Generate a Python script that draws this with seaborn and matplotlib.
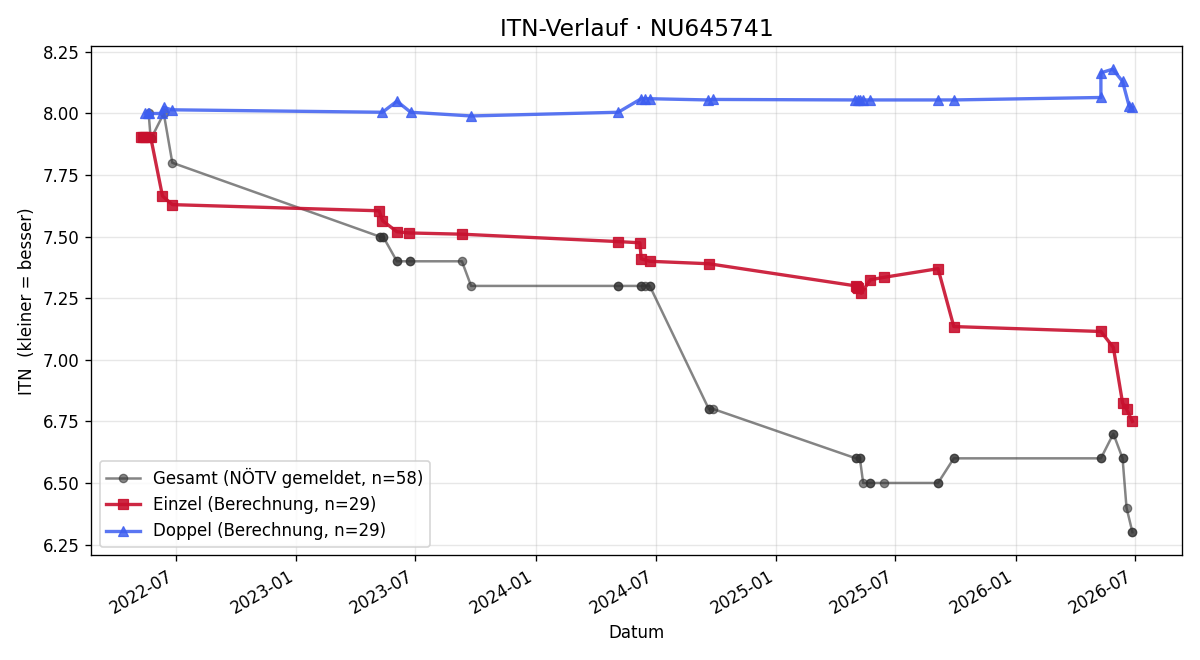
import matplotlib

matplotlib.use("Agg")
import matplotlib.dates as mdates
import matplotlib.pyplot as plt
import pandas as pd
import seaborn as sns

TITLE = "ITN-Verlauf · NU645741"

EINZEL_DATES = [
    "2022-05-09", "2022-05-12", "2022-05-16", "2022-05-24", "2022-06-11", "2022-06-26",
    "2023-05-07", "2023-05-12", "2023-06-03", "2023-06-22", "2023-09-10",
    "2024-05-05", "2024-06-07", "2024-06-09", "2024-06-22", "2024-09-20",
    "2025-05-02", "2025-05-03", "2025-05-05", "2025-05-10", "2025-05-24", "2025-06-14",
    "2025-09-04", "2025-09-28",
    "2026-05-10", "2026-05-29", "2026-06-12", "2026-06-18", "2026-06-27",
]
EINZEL_ITN = [
    7.905, 7.905, 7.905, 7.905, 7.665, 7.63,
    7.605, 7.565, 7.52, 7.515, 7.51,
    7.48, 7.475, 7.41, 7.40, 7.39,
    7.30, 7.295, 7.29, 7.27, 7.325, 7.335,
    7.37, 7.135,
    7.115, 7.05, 6.825, 6.80, 6.75,
]

DOPPEL_DATES = [
    "2022-05-16", "2022-05-20", "2022-05-22", "2022-06-10", "2022-06-13", "2022-06-25",
    "2023-05-12", "2023-06-03", "2023-06-24", "2023-09-24",
    "2024-05-05", "2024-06-09", "2024-06-15", "2024-06-22", "2024-09-19", "2024-09-27",
    "2025-05-01", "2025-05-05", "2025-05-08", "2025-05-13", "2025-05-24",
    "2025-09-04", "2025-09-28",
    "2026-05-10", "2026-05-10", "2026-05-28", "2026-06-12", "2026-06-22", "2026-06-27",
]
DOPPEL_ITN = [
    8.0, 8.0, 8.0, 8.0, 8.025, 8.015,
    8.005, 8.05, 8.005, 7.99,
    8.005, 8.06, 8.06, 8.06, 8.055, 8.057,
    8.055, 8.055, 8.055, 8.055, 8.055,
    8.055, 8.055,
    8.065, 8.165, 8.18, 8.13, 8.03, 8.025,
]

GESAMT_DATES = [
    "2022-05-21", "2022-05-24", "2022-05-25", "2022-06-13", "2022-06-26",
    "2023-05-08", "2023-05-08", "2023-05-13", "2023-05-13", "2023-06-03", "2023-06-03",
    "2023-06-23", "2023-06-23", "2023-09-10", "2023-09-24",
    "2024-05-05", "2024-05-05", "2024-06-08", "2024-06-08", "2024-06-15",
    "2024-06-22", "2024-06-22", "2024-09-20", "2024-09-20", "2024-09-27",
    "2025-05-02", "2025-05-02", "2025-05-08", "2025-05-08", "2025-05-13",
    "2025-05-24", "2025-05-24", "2025-06-14", "2025-09-04", "2025-09-04",
    "2025-09-28", "2025-09-28",
    "2026-05-10", "2026-05-10", "2026-05-29", "2026-05-29",
    "2026-06-12", "2026-06-12", "2026-06-18", "2026-06-27", "2026-06-27",
]
GESAMT_ITN = [
    8.0, 7.9, 7.9, 8.0, 7.8,
    7.5, 7.5, 7.5, 7.5, 7.4, 7.4,
    7.4, 7.4, 7.4, 7.3,
    7.3, 7.3, 7.3, 7.3, 7.3,
    7.3, 7.3, 6.8, 6.8, 6.8,
    6.6, 6.6, 6.6, 6.6, 6.5,
    6.5, 6.5, 6.5, 6.5, 6.5,
    6.6, 6.6,
    6.6, 6.6, 6.7, 6.7,
    6.6, 6.6, 6.4, 6.3, 6.3,
]


def main():
    plt.rcParams["font.family"] = ["DejaVu Sans"]
    gesamt = pd.DataFrame({"datum": pd.to_datetime(GESAMT_DATES), "itn": GESAMT_ITN})
    einzel = pd.DataFrame({"datum": pd.to_datetime(EINZEL_DATES), "itn": EINZEL_ITN})
    doppel = pd.DataFrame({"datum": pd.to_datetime(DOPPEL_DATES), "itn": DOPPEL_ITN})

    fig, ax = plt.subplots(figsize=(10, 5.5), dpi=120)
    common = dict(x="datum", y="itn", estimator=None, sort=False, ax=ax)
    gray, red, blue = "#333333", "#c8102e", "#3d5ef0"
    sns.lineplot(data=gesamt, color=gray, alpha=0.6, marker="o", markersize=5,
                 markeredgecolor=gray, linewidth=1.5,
                 label="Gesamt (NÖTV gemeldet, n=58)", **common)
    sns.lineplot(data=einzel, color=red, alpha=0.9, marker="s", markersize=6,
                 markeredgecolor=red, linewidth=2,
                 label=f"Einzel (Berechnung, n={len(einzel)})", **common)
    sns.lineplot(data=doppel, color=blue, alpha=0.85, marker="^", markersize=6,
                 markeredgecolor=blue, linewidth=2,
                 label=f"Doppel (Berechnung, n={len(doppel)})", **common)

    ax.set_title(TITLE, fontsize=14)
    ax.set_xlabel("Datum")
    ax.set_ylabel("ITN  (kleiner = besser)")
    ax.grid(alpha=0.3)
    ax.xaxis.set_major_locator(mdates.MonthLocator(bymonth=[1, 7]))
    ax.xaxis.set_major_formatter(mdates.DateFormatter("%Y-%m"))
    ax.legend(loc="lower left")
    fig.autofmt_xdate()
    fig.tight_layout()
    fig.savefig("out.png", dpi=120)
    plt.close(fig)


if __name__ == "__main__":
    main()
